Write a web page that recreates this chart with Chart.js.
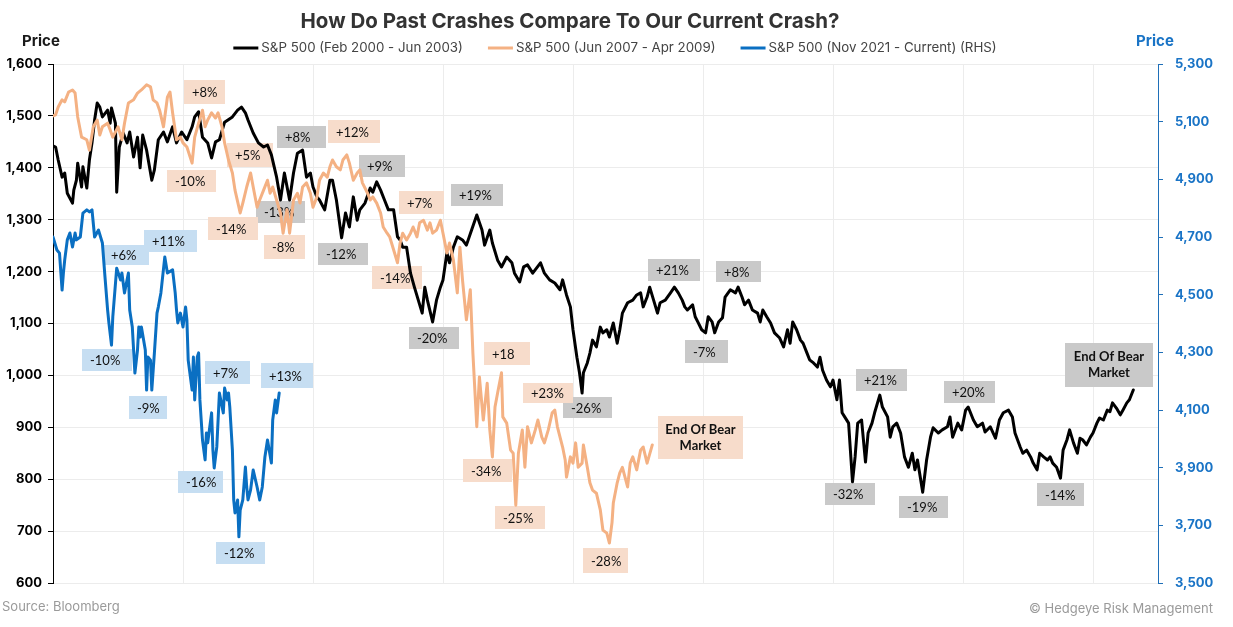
<!DOCTYPE html>
<html>
<head>
<meta charset="utf-8">
<script src="https://cdn.jsdelivr.net/npm/chart.js@4.4.0/dist/chart.umd.min.js"></script>
<style>
html,body{margin:0;padding:0;background:#fff;overflow:hidden}
#wrap{position:relative;width:1233px;height:627px}
canvas{display:block}
</style>
</head>
<body>
<div id="wrap"><canvas id="c" width="1233" height="627"></canvas></div>
<script>
// ---------------- DATA ----------------
// x = trading day since start of each episode; y = S&P 500 level
const seriesLabels = ['S&P 500 (Feb 2000 - Jun 2003)', 'S&P 500 (Jun 2007 - Apr 2009)', 'S&P 500 (Nov 2021 - Current) (RHS)'];

const blackDays = [
  0,2,4,7,9,11,15,16,18,19,
  22,23,26,28,30,32,34,36,38,42,
  44,45,48,49,51,54,57,59,62,65,
  67,69,72,76,78,81,85,88,92,95,
  99,103,107,109,112,115,119,122,125,128,
  132,138,142,145,148,150,154,158,162,165,
  168,172,175,178,182,185,188,192,195,198,
  200,203,205,209,213,215,218,222,225,228,
  231,234,236,240,244,246,249,252,255,258,
  262,265,267,269,272,275,278,281,284,286,
  288,292,295,298,300,303,305,308,311,315,
  318,322,326,330,332,336,338,342,345,349,
  353,355,359,362,365,369,375,378,382,386,
  390,392,395,398,400,403,405,407,408,411,
  413,415,418,421,423,426,428,431,434,436,
  438,442,446,449,452,454,457,459,462,465,
  467,471,475,478,481,484,486,488,492,494,
  496,499,502,504,507,509,512,515,517,521,
  525,527,530,532,535,538,542,544,546,549,
  552,555,559,562,565,567,569,572,575,577,
  580,582,585,588,590,592,595,598,600,603,
  605,607,609,612,615,617,619,622,625,627,
  630,632,636,638,642,644,646,649,652,655,
  658,661,663,665,669,672,675,677,681,684,
  688,690,692,696,699,702,704,708,711,715,
  717,721,725,728,731,735,738,740,744,746,
  749,752,754,757,759,762,765,767,769,772,
  775,777,780,782,785,788,790,792,795,798,
  800,803,805,808,811,813,815,818,821,823,
  826,828,831
];
const blackPrices = [
  1442,1440,1415,1382,1390,1351,1332,1357,1376,1409,
  1363,1402,1361,1415,1448,1492,1525,1517,1498,1511,
  1486,1515,1486,1353,1440,1467,1448,1469,1421,1459,
  1400,1463,1434,1376,1396,1454,1469,1450,1479,1448,
  1469,1454,1479,1498,1508,1459,1448,1419,1450,1454,
  1488,1498,1511,1517,1506,1492,1467,1448,1440,1444,
  1425,1382,1338,1390,1338,1390,1428,1434,1382,1390,
  1363,1344,1338,1319,1376,1376,1338,1265,1313,1286,
  1344,1299,1319,1332,1361,1353,1373,1357,1338,1319,
  1319,1267,1261,1247,1247,1197,1170,1145,1120,1170,
  1145,1103,1145,1170,1184,1236,1217,1247,1267,1261,
  1251,1280,1309,1280,1251,1280,1255,1222,1209,1228,
  1217,1197,1180,1209,1213,1197,1217,1197,1184,1178,
  1165,1184,1155,1132,1088,1035,1005,966,1005,1024,
  1043,1068,1055,1093,1082,1088,1074,1101,1062,1088,
  1120,1140,1145,1155,1159,1132,1151,1170,1145,1120,
  1140,1145,1159,1170,1159,1145,1132,1126,1136,1113,
  1103,1088,1082,1113,1103,1082,1103,1111,1151,1165,
  1159,1170,1151,1136,1145,1126,1120,1103,1126,1113,
  1101,1082,1072,1055,1088,1062,1103,1088,1068,1062,
  1043,1030,1024,1016,1035,1010,991,978,991,953,
  991,928,920,908,795,843,908,914,833,889,
  908,928,962,939,920,881,901,908,889,843,
  823,850,818,837,775,837,881,899,889,895,
  901,920,881,908,895,933,939,914,901,908,
  891,901,879,914,928,933,920,889,862,850,
  856,843,831,818,850,843,837,843,831,823,
  802,856,876,895,870,850,879,876,866,881,
  889,908,918,914,933,930,947,937,924,933,
  947,953,972
];

const orangeDays = [
  0,2,4,7,9,12,15,17,19,22,
  26,28,31,34,36,38,42,44,46,50,
  53,55,58,62,65,68,72,75,77,80,
  82,85,88,90,92,95,98,100,103,107,
  109,112,115,117,119,122,125,127,130,132,
  135,138,140,144,146,149,152,154,157,159,
  162,165,167,169,172,175,177,180,182,185,
  188,190,192,195,198,200,203,205,208,211,
  213,215,218,221,223,226,228,231,234,236,
  238,242,244,246,249,252,254,257,259,262,
  265,267,269,272,275,277,280,282,285,288,
  290,292,295,298,300,303,305,308,311,313,
  315,318,321,323,326,328,331,334,336,338,
  340,342,345,346,349,352,354,356,358,361,
  363,365,368,371,373,376,378,381,384,386,
  388,392,394,395,398,400,402,404,407,408,
  411,413,415,418,421,423,426,428,430,431,
  434,436,438,442,444,446,449,452,454,457,
  461
];
const orangePrices = [
  1500,1502,1517,1531,1527,1546,1550,1544,1498,1459,
  1454,1434,1479,1492,1463,1479,1486,1473,1459,1479,
  1454,1486,1525,1531,1544,1550,1560,1556,1531,1525,
  1511,1479,1536,1546,1506,1454,1459,1448,1440,1409,
  1459,1486,1511,1479,1492,1506,1496,1506,1479,1448,
  1415,1390,1357,1313,1332,1363,1390,1363,1324,1338,
  1357,1376,1351,1363,1338,1313,1274,1319,1274,1338,
  1351,1332,1363,1371,1351,1324,1344,1376,1390,1382,
  1402,1415,1402,1396,1415,1425,1409,1376,1390,1396,
  1371,1351,1338,1344,1332,1313,1286,1274,1267,1242,
  1217,1255,1274,1261,1274,1286,1267,1294,1299,1280,
  1294,1274,1280,1299,1274,1236,1255,1222,1159,1247,
  1184,1107,1165,1043,901,997,914,985,895,843,
  939,966,1005,920,908,856,850,750,850,895,
  823,901,870,895,914,881,870,895,928,933,
  901,862,837,804,843,831,870,823,831,866,
  823,793,779,773,741,702,696,677,716,754,
  793,812,823,785,831,843,818,856,862,831,
  866
];

const blueDays = [
  0,3,5,7,8,9,11,13,15,17,
  18,21,23,26,28,30,32,35,38,40,
  42,43,45,46,49,52,53,55,58,59,
  61,63,65,66,67,68,71,72,73,75,
  76,78,80,81,83,86,88,92,94,95,
  96,98,100,102,103,104,107,108,109,111,
  112,113,115,117,118,119,122,123,124,125,
  126,128,131,132,134,135,136,138,139,140,
  142,143,144,146,148,149,150,152,154,157,
  159,161,163,165,168,169,171,172,174
];
const bluePrices = [
  4700,4655,4644,4516,4575,4620,4690,4714,4665,4714,
  4690,4700,4783,4794,4787,4794,4700,4724,4679,4561,
  4447,4402,4325,4423,4592,4551,4575,4506,4575,4447,
  4388,4228,4308,4388,4353,4388,4308,4169,4284,4273,
  4169,4298,4436,4457,4506,4631,4575,4586,4506,4447,
  4402,4436,4388,4457,4412,4273,4169,4284,4135,4284,
  4298,4135,3996,3927,4020,3986,4090,3961,3899,3937,
  3972,4159,4090,4176,4135,4159,4110,3961,3788,3743,
  3788,3660,3753,3788,3902,3833,3788,3823,3892,3833,
  3788,3833,3937,3996,3916,4065,4135,4090,4159
];

// Axis ranges
const leftAxis = { min: 600, max: 1600, step: 100 };
const rightAxis = { min: 3500, max: 5300, step: 200 };
const dayAxis = { min: 0, max: 850, step: 100 };

// Annotation labels: text, box kind, anchor (day, price of box top-left), box size
const annotations = [
  // 2000-2003 (grey)
  { text: '+8%',  kind: 'grey', day: 172, price: 1481, w: 49, h: 22 },
  { text: '-13%', kind: 'grey', day: 156, price: 1336, w: 49, h: 22 },
  { text: '-12%', kind: 'grey', day: 204, price: 1255, w: 50, h: 22 },
  { text: '+9%',  kind: 'grey', day: 235, price: 1425, w: 46, h: 22 },
  { text: '+19%', kind: 'grey', day: 306, price: 1369, w: 52, h: 22 },
  { text: '-20%', kind: 'grey', day: 274, price: 1093, w: 50, h: 22 },
  { text: '-26%', kind: 'grey', day: 392, price: 958,  w: 49, h: 21 },
  { text: '+21%', kind: 'grey', day: 458, price: 1224, w: 52, h: 22 },
  { text: '+8%',  kind: 'grey', day: 510, price: 1220, w: 45, h: 21 },
  { text: '-7%',  kind: 'grey', day: 486, price: 1068, w: 43, h: 23 },
  { text: '-32%', kind: 'grey', day: 594, price: 793,  w: 50, h: 22 },
  { text: '+21%', kind: 'grey', day: 618, price: 1012, w: 51, h: 22 },
  { text: '+20%', kind: 'grey', day: 685, price: 989,  w: 51, h: 22 },
  { text: '-19%', kind: 'grey', day: 651, price: 768,  w: 49, h: 22 },
  { text: '-14%', kind: 'grey', day: 757, price: 793,  w: 47, h: 23 },
  { text: 'End Of Bear\nMarket', kind: 'grey', day: 778.5, price: 1062, w: 88, h: 44 },
  // 2007-2009 (orange)
  { text: '+8%',  kind: 'orange', day: 101, price: 1569, w: 41, h: 24 },
  { text: '+5%',  kind: 'orange', day: 134, price: 1448, w: 46, h: 24 },
  { text: '-10%', kind: 'orange', day: 88,  price: 1396, w: 49, h: 22 },
  { text: '-14%', kind: 'orange', day: 119, price: 1305, w: 50, h: 23 },
  { text: '-8%',  kind: 'orange', day: 162, price: 1271, w: 41, h: 24 },
  { text: '+12%', kind: 'orange', day: 211.5, price: 1492, w: 52, h: 23 },
  { text: '+7%',  kind: 'orange', day: 266, price: 1355, w: 45, h: 23 },
  { text: '-14%', kind: 'orange', day: 245, price: 1211, w: 50, h: 23 },
  { text: '+18',  kind: 'orange', day: 331.5, price: 1064, w: 46, h: 23 },
  { text: '+23%', kind: 'orange', day: 361.5, price: 985, w: 50, h: 20 },
  { text: '-34%', kind: 'orange', day: 315, price: 839,  w: 49, h: 23 },
  { text: '-25%', kind: 'orange', day: 340, price: 748,  w: 50, h: 23 },
  { text: '-28%', kind: 'orange', day: 408, price: 667,  w: 45, h: 25 },
  { text: 'End Of Bear\nMarket', kind: 'orange', day: 465.4, price: 922, w: 85, h: 43 },
  // 2021-current (blue, right axis)
  { text: '+6%',  kind: 'blue', day: 38.5, price: 4672, w: 46, h: 20 },
  { text: '+11%', kind: 'blue', day: 70,   price: 4724, w: 53, h: 22 },
  { text: '-10%', kind: 'blue', day: 22.3, price: 4312, w: 50, h: 22 },
  { text: '-9%',  kind: 'blue', day: 58.5, price: 4149, w: 38, h: 23 },
  { text: '+7%',  kind: 'blue', day: 117,  price: 4270, w: 45, h: 23 },
  { text: '+13%', kind: 'blue', day: 160,  price: 4263, w: 52, h: 25 },
  { text: '-16%', kind: 'blue', day: 96.2, price: 3888, w: 45, h: 22 },
  { text: '-12%', kind: 'blue', day: 125.4, price: 3642, w: 49, h: 22 }
];

// ---------------- STYLE ----------------
const FONT = 'Inter, "Noto Sans", "DejaVu Sans", sans-serif';
const BOX_FONT = 'Lato, "Open Sans", sans-serif';
const colors = { black: '#000000', orange: '#f4b183', blue: '#0a6fc2' };
const boxFill = { grey: '#c9c9c9', orange: '#f7dccb', blue: '#c6def2' };
const blueText = '#1a74c6';
const gridColor = '#ececec';

const toPoints = (days, prices) => days.map((d, i) => ({ x: d, y: prices[i] }));
const fmt = v => Number(v).toLocaleString('en-US');

const overlay = {
  id: 'overlay',
  beforeDatasetsDraw(chart) {
    const ctx = chart.ctx, xs = chart.scales.x;
    ctx.save();
    annotations.forEach(a => {
      const ys = chart.scales[a.kind === 'blue' ? 'y2' : 'y'];
      const L = Math.round(xs.getPixelForValue(a.day));
      const T = Math.round(ys.getPixelForValue(a.price));
      ctx.fillStyle = boxFill[a.kind];
      ctx.fillRect(L, T, a.w, a.h);
      ctx.fillStyle = '#111111';
      ctx.textBaseline = 'middle';
      const lines = a.text.split('\n');
      if (lines.length > 1) {
        ctx.font = '700 13px ' + BOX_FONT;
        ctx.textAlign = 'center';
        const cy = T + a.h / 2;
        lines.forEach((ln, i) => ctx.fillText(ln, L + a.w / 2, cy + (i - (lines.length - 1) / 2) * 16));
      } else {
        ctx.font = '13px ' + BOX_FONT;
        ctx.textAlign = 'left';
        ctx.fillText(a.text, L + 8, T + a.h / 2 + 1);
      }
    });
    ctx.restore();
  },
  afterDraw(chart) {
    const ctx = chart.ctx;
    ctx.save();
    // title
    ctx.fillStyle = '#333333';
    ctx.font = '700 20.5px ' + FONT;
    ctx.textAlign = 'center';
    ctx.textBaseline = 'middle';
    ctx.fillText('How Do Past Crashes Compare To Our Current Crash?', 570, 22);
    // legend
    ctx.font = '13.3px ' + FONT;
    const sample = 25, gap = 3, between = 25;
    const ds = chart.data.datasets;
    const order = [0, 1, 2];
    const widths = order.map(i => sample + gap + ctx.measureText(ds[i].label).width);
    const total = widths.reduce((a, b) => a + b, 0) + between * (order.length - 1);
    let x = 615 - total / 2;
    const ly = 48;
    order.forEach((i, k) => {
      ctx.strokeStyle = ds[i].borderColor;
      ctx.lineWidth = 3;
      ctx.beginPath(); ctx.moveTo(x, ly); ctx.lineTo(x + sample, ly); ctx.stroke();
      ctx.fillStyle = '#444444';
      ctx.textAlign = 'left';
      ctx.fillText(ds[i].label, x + sample + gap, ly);
      x += widths[k] + between;
    });
    // axis titles
    ctx.font = '700 15px ' + FONT;
    ctx.textAlign = 'center';
    ctx.fillStyle = '#1a1a1a';
    ctx.fillText('Price', 41, 41);
    ctx.fillStyle = blueText;
    ctx.fillText('Price', 1155, 41);
    // footers
    ctx.font = '13px ' + FONT;
    ctx.fillStyle = '#9a9a9a';
    ctx.textAlign = 'left';
    ctx.fillText('Source: Bloomberg', 2, 607);
    ctx.textAlign = 'right';
    ctx.fillText('\u00A9 Hedgeye Risk Management', 1213, 609);
    ctx.restore();
  }
};

new Chart(document.getElementById('c'), {
  type: 'line',
  data: {
    datasets: [
      { label: seriesLabels[0], data: toPoints(blackDays, blackPrices), borderColor: colors.black, yAxisID: 'y', order: 2 },
      { label: seriesLabels[1], data: toPoints(orangeDays, orangePrices), borderColor: colors.orange, yAxisID: 'y', order: 1 },
      { label: seriesLabels[2], data: toPoints(blueDays, bluePrices), borderColor: colors.blue, yAxisID: 'y2', order: 0 }
    ]
  },
  options: {
    responsive: false,
    animation: false,
    devicePixelRatio: 1,
    parsing: true,
    layout: { padding: { top: 64, bottom: 44, left: 0, right: 0 } },
    elements: {
      point: { radius: 0, hoverRadius: 0 },
      line: { borderWidth: 3, tension: 0, borderJoinStyle: 'round', borderCapStyle: 'round' }
    },
    plugins: { legend: { display: false }, tooltip: { enabled: false }, title: { display: false } },
    events: [],
    scales: {
      x: {
        type: 'linear', min: dayAxis.min, max: dayAxis.max,
        ticks: { display: false, stepSize: dayAxis.step, includeBounds: false },
        grid: { color: gridColor, drawTicks: false, lineWidth: 1 },
        border: { display: false },
        afterFit: s => { s.height = 0; }
      },
      y: {
        position: 'left', min: leftAxis.min, max: leftAxis.max,
        ticks: { stepSize: leftAxis.step, callback: fmt, color: '#000', padding: 6,
                 font: { family: FONT, size: 13, weight: '700' } },
        grid: { color: gridColor, tickColor: '#000', tickLength: 5, lineWidth: 1 },
        border: { display: true, color: '#000', width: 1 },
        afterFit: s => { s.width = 53; }
      },
      y2: {
        position: 'right', min: rightAxis.min, max: rightAxis.max,
        ticks: { stepSize: rightAxis.step, callback: fmt, color: blueText, padding: 12,
                 font: { family: FONT, size: 13, weight: '700' } },
        grid: { drawOnChartArea: false, tickColor: '#1f6fb8', tickLength: 5 },
        border: { display: true, color: '#1f6fb8', width: 1 },
        afterFit: s => { s.width = 75; }
      }
    }
  },
  plugins: [overlay]
});
</script>
</body>
</html>
